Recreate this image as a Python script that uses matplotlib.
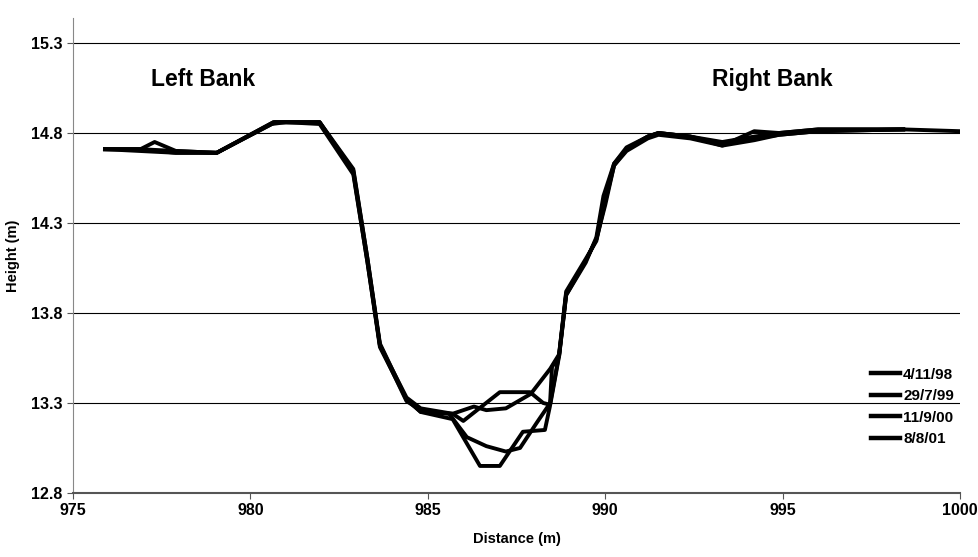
import numpy as np
import matplotlib.pyplot as plt

plt.rcParams['font.family'] = ['Liberation Sans', 'DejaVu Sans']
plt.rcParams['font.weight'] = 'bold'

# cross-section surveys, distance (m) vs height (m)
x_98 = [975.9, 976.9, 977.9, 979.05, 980.6, 981.0, 981.95, 982.9, 983.3, 983.65, 984.4, 984.8,
        985.7, 986.3, 986.65, 987.2, 987.9, 988.45, 988.7, 988.9, 989.45, 989.75, 990.0, 990.25,
        990.6, 991.2, 991.5, 992.4, 993.3, 994.2, 994.9, 996.0, 998.4]
h_98 = [14.71, 14.71, 14.69, 14.69, 14.85, 14.86, 14.86, 14.60, 14.10, 13.62, 13.33, 13.27,
        13.24, 13.28, 13.26, 13.27, 13.35, 13.49, 13.57, 13.91, 14.09, 14.21, 14.40, 14.62,
        14.71, 14.78, 14.80, 14.78, 14.74, 14.77, 14.79, 14.81, 14.82]

x_99 = [975.9, 976.9, 977.3, 977.9, 979.05, 980.65, 981.0, 981.95, 982.9, 983.3, 983.65, 984.4,
        984.8, 985.7, 986.0, 987.03, 987.88, 988.25, 988.45, 988.7, 988.9, 989.45, 989.75, 989.95,
        990.25, 990.6, 991.2, 991.5, 992.4, 993.3, 994.2, 994.9, 996.0, 998.4, 1000.0]
h_99 = [14.71, 14.71, 14.75, 14.70, 14.69, 14.86, 14.86, 14.86, 14.58, 14.08, 13.61, 13.32,
        13.25, 13.24, 13.20, 13.36, 13.36, 13.30, 13.29, 13.56, 13.90, 14.08, 14.22, 14.45,
        14.63, 14.72, 14.78, 14.80, 14.78, 14.73, 14.81, 14.80, 14.82, 14.82, 14.81]

x_00 = [975.9, 976.9, 977.9, 979.05, 980.7, 981.0, 981.95, 982.9, 983.3, 983.65, 984.4, 984.8,
        985.6, 986.1, 986.65, 987.2, 987.6, 988.07, 988.45, 988.7, 988.9, 989.45, 989.75, 990.0,
        990.25, 990.6, 991.2, 991.5, 992.4, 993.3, 994.2, 994.9, 996.0, 998.4]
h_00 = [14.71, 14.70, 14.69, 14.69, 14.86, 14.86, 14.85, 14.57, 14.08, 13.62, 13.31, 13.26,
        13.24, 13.11, 13.06, 13.03, 13.05, 13.19, 13.30, 13.57, 13.92, 14.10, 14.20, 14.42,
        14.62, 14.70, 14.77, 14.79, 14.77, 14.73, 14.76, 14.79, 14.81, 14.82]

x_01 = [975.9, 976.9, 977.9, 979.05, 980.65, 981.0, 981.95, 982.9, 983.3, 983.65, 984.4, 984.8,
        985.7, 986.47, 987.03, 987.68, 988.3, 988.44, 988.5, 988.7, 988.9, 989.45, 989.75, 990.0,
        990.25, 990.6, 991.2, 991.5, 992.4, 993.3, 994.2, 994.9, 996.0, 998.4]
h_01 = [14.71, 14.71, 14.70, 14.69, 14.86, 14.86, 14.86, 14.59, 14.10, 13.63, 13.32, 13.25,
        13.21, 12.95, 12.95, 13.14, 13.15, 13.28, 13.50, 13.56, 13.90, 14.09, 14.21, 14.44,
        14.63, 14.71, 14.78, 14.80, 14.78, 14.75, 14.78, 14.80, 14.82, 14.82]

labels = ['4/11/98', '29/7/99', '11/9/00', '8/8/01']

fig = plt.figure(figsize=(9.79, 5.57), dpi=100)
ax = fig.add_axes([0.0746, 0.115, 0.906, 0.853])

for xs, hs, lab in zip([x_98, x_99, x_00, x_01], [h_98, h_99, h_00, h_01], labels):
    ax.plot(xs, hs, color='black', lw=2.8, label=lab, solid_joinstyle='round')

ax.set_xlim(975, 1000)
ax.set_ylim(12.8, 15.44)
ax.set_xticks(np.arange(975, 1001, 5))
ax.set_yticks(np.arange(12.8, 15.31, 0.5))
ax.set_yticklabels(['%.1f' % v for v in np.arange(12.8, 15.31, 0.5)])
ax.tick_params(labelsize=11.5, length=4, width=0.8, color='#555555')
ax.grid(axis='y', color='black', lw=0.8)
ax.set_axisbelow(True)

for s in ['top', 'right']:
    ax.spines[s].set_visible(False)
ax.spines['left'].set_color('#888888')
ax.spines['bottom'].set_color('#555555')
ax.spines['bottom'].set_linewidth(1.5)

ax.set_xlabel('Distance (m)', fontsize=10.5, fontweight='bold', labelpad=10)
ax.set_ylabel('Height (m)', fontsize=10.5, fontweight='bold', labelpad=8)

ax.text(977.2, 15.1, 'Left Bank', fontsize=16.5, fontweight='bold', va='center')
ax.text(993.0, 15.1, 'Right Bank', fontsize=16.5, fontweight='bold', va='center')

leg = ax.legend(loc='lower right', bbox_to_anchor=(1.0, 0.085), frameon=False, fontsize=11,
                handlelength=1.9, handletextpad=0.2, labelspacing=0.5, borderaxespad=0)
for line in leg.get_lines():
    line.set_linewidth(3.2)

fig.savefig('out.png', dpi=100)
